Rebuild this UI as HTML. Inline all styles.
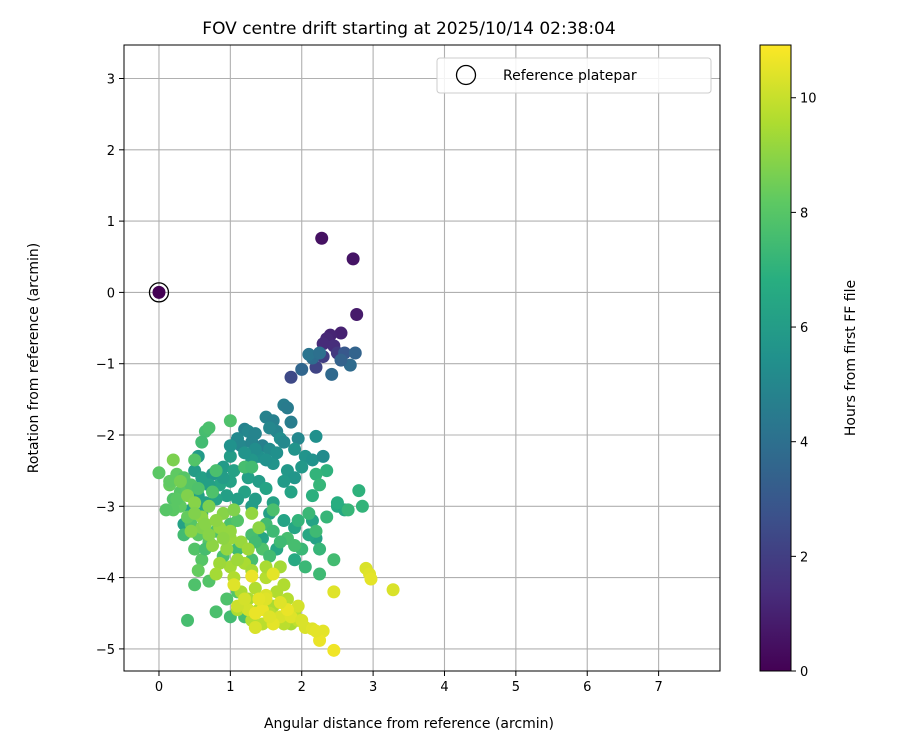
<!DOCTYPE html>
<html><head><meta charset="utf-8"><style>
body{margin:0;background:#fff;font-family:"Liberation Sans","DejaVu Sans",sans-serif}
svg{display:block}
svg text{font-family:"DejaVu Sans","Liberation Sans",sans-serif;fill:#000}
</style></head><body>
<svg id="c" width="900" height="750">
<defs><linearGradient id="vir" x1="0" y1="1" x2="0" y2="0">
<stop offset="0" stop-color="#440154"/><stop offset="0.125" stop-color="#472d7b"/><stop offset="0.25" stop-color="#3b528b"/><stop offset="0.375" stop-color="#2c728e"/><stop offset="0.5" stop-color="#21918c"/><stop offset="0.625" stop-color="#28ae80"/><stop offset="0.75" stop-color="#5ec962"/><stop offset="0.875" stop-color="#addc30"/><stop offset="1" stop-color="#fde725"/></linearGradient>
<clipPath id="clip"><rect x="124" y="45" width="596" height="626"/></clipPath></defs>
</svg>
<script>
const xs=[0,2.28,2.72,2.77,2.55,2.4,2.35,2.45,2.3,2.5,2.3,2.2,1.85,2.6,2.75,2.68,2.42,2.15,2.1,2.0,2.25,2.55,
1.75,1.8,1.5,1.6,1.65,1.85,1.2,1.25,1.1,1.15,1.3,1.45,1.55,1.7,1.75,1.95,2.2,2.05,2.15,2.3,1.4,1.6,1.8,1.9,0.55,0.5,0.6,0.75,0.9,1.0,1.05,1.25,1.4,1.5,1.2,0.95,0.8,0.35,0.6,1.3,1.55,1.75,1.9,2.2,2.15,2.5,2.6,1.85,1.0,0.85,
1.35,1.5,1.65,1.9,2.0,1.3,0.9,0.7,0.55,0.45,0.65,1.1,1.35,1.6,1.45,1.65,1.9,2.1,1.75,1.2,1.0,1.35,1.55,
1.0,0.65,0.7,0.6,0.5,0.0,0.25,0.15,0.3,0.2,0.4,0.8,0.75,1.2,1.3,2.35,2.2,2.25,2.15,2.8,2.85,2.65,2.5,2.1,2.2,1.5,1.6,1.8,2.0,2.25,2.45,2.25,1.9,0.5,0.45,0.3,0.2,0.1,0.4,0.55,0.7,0.8,1.0,1.1,1.3,1.45,1.55,0.6,0.4,0.8,0.5,1.1,1.0,1.2,0.55,1.7,1.6,
0.35,0.45,0.25,0.15,0.55,0.35,0.65,0.9,1.1,1.3,2.05,2.35,1.95,0.7,0.95,1.35,
0.3,0.4,0.5,0.6,0.7,0.9,0.85,0.6,0.45,1.0,0.75,0.95,1.15,1.25,1.4,1.3,1.05,0.2,1.2,1.0,0.85,0.8,1.05,1.15,1.35,1.5,1.7,1.75,1.8,1.6,1.4,1.3,1.45,1.6,1.85,1.9,
0.5,0.65,0.8,1.0,0.7,0.9,1.1,1.3,1.5,1.65,1.45,1.25,1.1,1.55,1.75,1.95,
1.6,1.3,1.05,1.5,1.95,2.05,2.15,2.3,2.25,2.45,2.45,2.9,2.95,2.97,3.28,1.45,1.7,1.85,1.25,1.1,1.6,1.8,1.35,1.5,1.2,
1.4,1.7,2.0,2.2,1.35,1.55];
const ys=[0,0.76,0.47,-0.31,-0.57,-0.6,-0.65,-0.75,-0.72,-0.85,-0.9,-1.05,-1.19,-0.85,-0.85,-1.02,-1.15,-0.92,-0.87,-1.08,-0.85,-0.95,
-1.58,-1.62,-1.75,-1.8,-1.95,-1.82,-1.92,-1.95,-2.05,-2.15,-2.1,-2.15,-2.2,-2.05,-2.1,-2.05,-2.02,-2.3,-2.35,-2.3,-2.3,-2.4,-2.5,-2.6,-2.3,-2.5,-2.6,-2.55,-2.45,-2.3,-2.5,-2.6,-2.65,-2.75,-2.8,-2.85,-2.9,-3.25,-3.1,-3.0,-3.1,-3.2,-3.3,-3.45,-3.2,-3.0,-3.05,-2.8,-2.65,-2.7,
-2.2,-2.35,-2.25,-2.2,-2.45,-2.35,-2.6,-2.7,-2.85,-3.05,-2.95,-2.9,-2.9,-2.95,-3.45,-3.6,-3.75,-3.4,-2.65,-2.25,-2.15,-1.98,-1.9,
-1.8,-1.95,-1.9,-2.1,-2.35,-2.53,-2.55,-2.7,-2.8,-2.9,-2.75,-2.5,-2.8,-2.45,-2.45,-2.5,-2.55,-2.7,-2.85,-2.78,-3.0,-3.05,-2.95,-3.1,-3.35,-3.25,-3.35,-3.45,-3.6,-3.6,-3.75,-3.95,-3.55,-3.6,-3.25,-3.0,-3.05,-3.05,-3.15,-3.4,-3.5,-3.35,-3.25,-3.2,-3.4,-3.6,-3.7,-3.75,-4.6,-4.48,-4.1,-4.2,-4.55,-4.55,-3.9,-3.5,-3.05,
-2.6,-2.7,-2.9,-2.65,-2.75,-3.4,-3.6,-3.7,-3.6,-3.75,-3.85,-3.15,-3.2,-4.05,-4.3,-3.5,
-2.65,-2.85,-2.95,-3.15,-3.0,-3.1,-3.3,-3.3,-3.35,-3.45,-3.55,-3.6,-3.5,-3.6,-3.3,-3.1,-3.05,-2.35,-3.8,-3.85,-3.8,-3.95,-4.0,-4.2,-4.15,-4.0,-3.85,-4.1,-4.3,-4.4,-4.45,-4.6,-4.65,-4.6,-4.65,-4.5,
-3.1,-3.25,-3.2,-3.35,-3.4,-3.45,-3.75,-3.9,-3.85,-4.2,-4.35,-4.3,-4.45,-4.5,-4.65,-4.6,
-3.95,-3.98,-4.1,-4.25,-4.4,-4.7,-4.72,-4.75,-4.88,-5.02,-4.2,-3.87,-3.95,-4.02,-4.17,-4.45,-4.55,-4.55,-4.45,-4.4,-4.65,-4.45,-4.7,-4.3,-4.3,
-4.3,-4.35,-4.6,-4.75,-4.5,-4.55];
const hours=[0,0.5,0.6,0.8,1.0,1.1,1.2,1.4,1.3,1.8,2.0,2.2,2.4,3.0,3.5,3.8,3.7,3.9,4.2,3.6,4.0,3.4,
4.6,4.5,4.8,4.7,4.9,4.6,4.8,5.0,5.1,5.0,4.9,4.7,5.2,5.3,5.1,5.0,5.4,5.6,5.5,5.2,5.4,5.6,5.8,5.7,5.9,6.0,6.1,5.8,5.9,6.0,6.2,6.1,6.0,6.3,6.2,6.1,6.3,6.2,6.4,6.0,6.1,6.3,6.4,6.2,6.3,6.6,6.5,6.3,6.2,6.4,
5.3,5.5,5.4,5.6,5.8,5.7,6.0,6.1,6.2,6.3,6.2,6.1,6.0,6.2,6.4,6.5,6.6,6.5,5.9,5.6,5.5,4.9,5.0,
7.8,7.6,7.7,7.5,7.9,8.1,8.2,8.3,8.0,7.9,8.1,7.7,7.8,7.6,7.5,7.0,7.1,7.2,6.9,7.0,7.1,7.2,6.8,7.3,7.4,7.5,7.4,7.6,7.3,7.2,7.5,7.4,7.6,7.9,8.0,8.2,8.1,8.0,8.3,8.1,8.0,7.8,7.7,7.9,7.6,7.8,7.5,8.0,7.6,7.7,7.8,7.9,7.5,7.6,8.3,7.4,7.7,
8.0,7.9,8.1,8.2,7.8,7.5,7.6,7.7,7.4,7.6,7.3,7.2,7.1,7.9,7.8,7.5,
8.6,8.8,8.9,9.0,8.7,8.9,9.1,8.8,8.9,9.2,9.0,9.1,9.2,9.3,9.0,9.1,8.8,8.7,9.5,9.4,9.3,9.4,9.6,9.5,9.6,9.7,9.4,9.6,9.7,9.5,9.6,9.7,9.8,9.6,9.5,9.7,
8.8,8.9,9.0,9.1,8.9,9.0,9.3,9.4,9.5,9.6,9.7,9.5,9.6,9.8,9.8,9.9,
10.5,10.6,10.4,10.3,10.2,10.3,10.4,10.5,10.6,10.7,10.4,10.3,10.4,10.5,10.3,10.6,10.3,10.4,10.2,10.1,10.5,10.6,10.3,10.4,10.2,
10.5,10.4,10.3,10.5,10.6,10.4];
const xTicks=[0,1,2,3,4,5,6,7], yTicks=[3,2,1,0,-1,-2,-3,-4,-5], cTicks=[0,2,4,6,8,10];
const X0=124,X1=720,Y0=45,Y1=671,xmin=-0.49,xmax=7.86,ymin=-5.31,ymax=3.47,cmax=10.92;
const sx=v=>X0+(v-xmin)/(xmax-xmin)*(X1-X0), sy=v=>Y1-(v-ymin)/(ymax-ymin)*(Y1-Y0), sc=v=>Y1-v/cmax*(Y1-Y0);
const V=[[68,1,84],[71,45,123],[59,82,139],[44,114,142],[33,145,140],[40,174,128],[94,201,98],[173,220,48],[253,231,37]];
function vir(t){t=Math.max(0,Math.min(1,t))*8;const i=Math.min(7,Math.floor(t)),f=t-i;const c=V[i].map((a,k)=>Math.round(a+(V[i+1][k]-a)*f));return `rgb(${c})`;}
const svg=document.getElementById('c'),NS='http://www.w3.org/2000/svg';
function el(tag,at,txt){const e=document.createElementNS(NS,tag);for(const k in at)e.setAttribute(k,at[k]);if(txt!==undefined)e.textContent=txt;svg.appendChild(e);return e;}
xTicks.forEach(v=>{const x=sx(v);
const g=el('line',{x1:x,x2:x,y1:Y0,y2:Y1,stroke:'#b0b0b0','stroke-width':1.1});


el('line',{x1:x,x2:x,y1:Y1,y2:Y1+5,stroke:'#000'});
const t=el('text',{x:x,y:Y1+20,'text-anchor':'middle','font-size':13},v);

});
yTicks.forEach(v=>{const y=sy(v);
const g=el('line',{x1:X0,x2:X1,y1:y,y2:y,stroke:'#b0b0b0','stroke-width':1.1});


el('line',{x1:X0-5,x2:X0,y1:y,y2:y,stroke:'#000'});
const t=el('text',{x:X0-9,y:y+5,'text-anchor':'end','font-size':13},v<0?'\u2212'+(-v):v);

});
const gp=el('g',{'clip-path':'url(#clip)'});
xs.forEach((x,i)=>{const c=document.createElementNS(NS,'circle');
c.setAttribute('cx',sx(x));c.setAttribute('cy',sy(ys[i]));c.setAttribute('r',6.5);c.setAttribute('fill',vir(hours[i]/cmax));


gp.appendChild(c);});
const rp=el('circle',{cx:sx(0),cy:sy(0),r:9.5,fill:'none',stroke:'#000','stroke-width':1.3});


const fr=el('rect',{x:X0,y:Y0,width:X1-X0,height:Y1-Y0,fill:'none',stroke:'#000','stroke-width':1});


const cb=el('rect',{x:760,y:Y0,width:31,height:Y1-Y0,fill:'url(#vir)',stroke:'#000','stroke-width':1});


cTicks.forEach(v=>{const y=sc(v);el('line',{x1:791,x2:796,y1:y,y2:y,stroke:'#000'});
const t=el('text',{x:800,y:y+5,'font-size':13},v);

});
</script>
<svg style="position:absolute;left:0;top:0" width="900" height="750">
<text x="409" y="34" text-anchor="middle" font-size="17">FOV centre drift starting at 2025/10/14 02:38:04</text>
<text x="409" y="728" text-anchor="middle" font-size="14">Angular distance from reference (arcmin)</text>
<text transform="translate(38,358) rotate(-90)" text-anchor="middle" font-size="14">Rotation from reference (arcmin)</text>
<text transform="translate(855,358) rotate(-90)" text-anchor="middle" font-size="14">Hours from first FF file</text>
<g>
<rect x="437" y="58" width="274" height="35" rx="3" fill="#fff" fill-opacity="0.85" stroke="#ccc"/>
<circle cx="466" cy="75" r="9.5" fill="none" stroke="#000" stroke-width="1.3"/>
<text x="503" y="80" font-size="14">Reference platepar</text>
</g>
</svg>
</body></html>
